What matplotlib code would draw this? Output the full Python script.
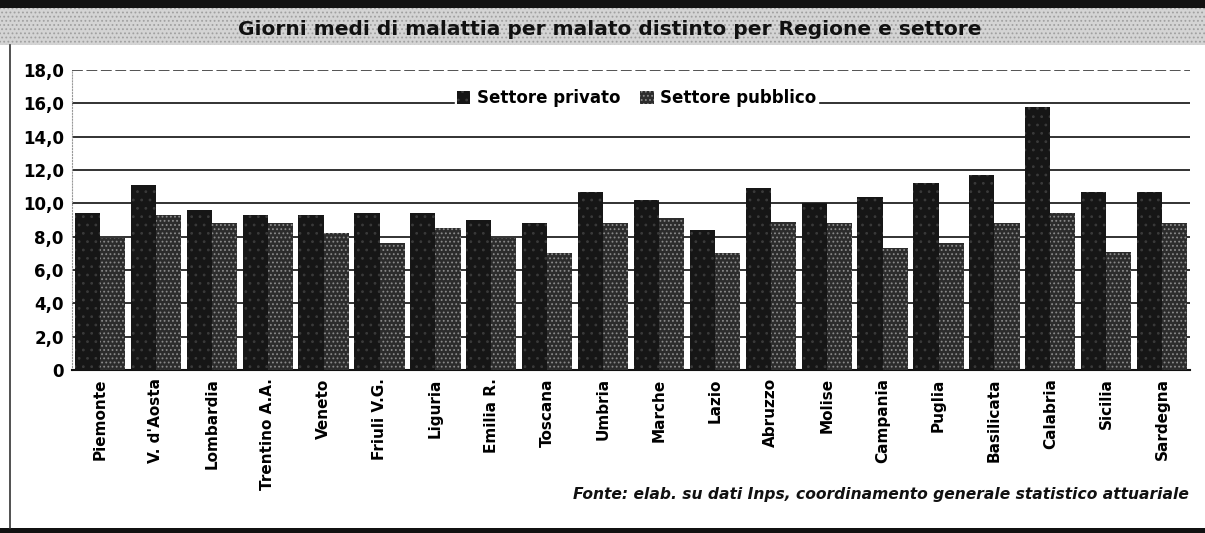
import numpy as np
import matplotlib.pyplot as plt
from matplotlib.patches import Rectangle
from matplotlib.lines import Line2D

regioni = ["Piemonte", "V. d'Aosta", "Lombardia", "Trentino A.A.", "Veneto",
           "Friuli V.G.", "Liguria", "Emilia R.", "Toscana", "Umbria",
           "Marche", "Lazio", "Abruzzo", "Molise", "Campania", "Puglia",
           "Basilicata", "Calabria", "Sicilia", "Sardegna"]
privato = [9.4, 11.1, 9.6, 9.3, 9.3, 9.4, 9.4, 9.0, 8.8, 10.7,
           10.2, 8.4, 10.9, 10.0, 10.4, 11.2, 11.7, 15.8, 10.7, 10.7]
pubblico = [7.9, 9.3, 8.8, 8.8, 8.2, 7.6, 8.5, 7.9, 7.0, 8.8,
            9.1, 7.0, 8.9, 8.8, 7.3, 7.6, 8.8, 9.4, 7.1, 8.8]
yticks = [0, 2, 4, 6, 8, 10, 12, 14, 16, 18]
ytick_labels = ["0", "2,0", "4,0", "6,0", "8,0", "10,0", "12,0", "14,0", "16,0", "18,0"]

plt.rcParams['font.family'] = ['DejaVu Sans']
plt.rcParams['hatch.linewidth'] = 0.8

fig = plt.figure(figsize=(12.05, 5.33), dpi=100)
fig.patch.set_facecolor('white')

# cornice: banda titolo, linee nere sopra e sotto, bordo sinistro
fig.patches.append(Rectangle((0, 0.915), 1, 0.085, transform=fig.transFigure,
                             facecolor='#d4d4d4', edgecolor='#a0a0a0', hatch='....',
                             linewidth=0, zorder=0))
fig.patches.append(Rectangle((0, 0.985), 1, 0.015, transform=fig.transFigure,
                             facecolor='#111111', edgecolor='none', zorder=1))
fig.patches.append(Rectangle((0, 0), 1, 0.01, transform=fig.transFigure,
                             facecolor='#111111', edgecolor='none', zorder=1))
fig.lines.append(Line2D([0.0085, 0.0085], [0.01, 0.915], transform=fig.transFigure,
                        color='#333333', linewidth=1.2))

fig.text(0.506, 0.945, "Giorni medi di malattia per malato distinto per Regione e settore",
         ha='center', va='center', fontsize=14.5, fontweight='bold', color='#111111')

ax = fig.add_axes([0.0598, 0.3058, 0.9278, 0.5629])
x = np.arange(len(regioni))
w = 0.45
ax.bar(x - w / 2, privato, width=w, color='#161616', edgecolor='#3a3a3a',
       hatch='..', linewidth=0, zorder=3)
ax.bar(x + w / 2, pubblico, width=w, color='#2c2c2c', edgecolor='#8a8a8a',
       hatch='....', linewidth=0, zorder=3)

ax.set_xlim(-0.5, len(regioni) - 0.5)
ax.set_ylim(0, 18)
ax.set_yticks(yticks)
ax.set_yticklabels(ytick_labels, fontsize=12, fontweight='bold')
ax.set_xticks(x)
ax.set_xticklabels(regioni, rotation=90, fontsize=11, fontweight='bold')
ax.tick_params(axis='both', length=0, pad=6)

for v in yticks[1:-1]:
    ax.axhline(v, color='#222222', linewidth=1.3, zorder=1)
ax.axhline(18, color='#444444', linewidth=1.3, linestyle=(0, (6, 2)), zorder=1)

for s in ['top', 'right']:
    ax.spines[s].set_visible(False)
ax.spines['left'].set_color('#999999')
ax.spines['left'].set_linestyle(':')
ax.spines['bottom'].set_color('#111111')
ax.spines['bottom'].set_linewidth(1.5)

handles = [Rectangle((0, 0), 1, 1, facecolor='#161616', edgecolor='#3a3a3a', hatch='..', linewidth=0),
           Rectangle((0, 0), 1, 1, facecolor='#2c2c2c', edgecolor='#8a8a8a', hatch='....', linewidth=0)]
leg = ax.legend(handles, ["Settore privato", "Settore pubblico"], loc='center',
                bbox_to_anchor=(0.505, 0.905), ncol=2, frameon=True, fancybox=False,
                framealpha=1, edgecolor='white', handlelength=0.8, handleheight=0.8,
                handletextpad=0.4, columnspacing=1.2, borderpad=0.1,
                prop={'weight': 'bold', 'size': 12})
leg.set_zorder(5)

fig.text(0.987, 0.072, "Fonte: elab. su dati Inps, coordinamento generale statistico attuariale",
         ha='right', va='center', fontsize=11.2, fontweight='bold', style='italic',
         color='#111111')

plt.savefig('out.png', dpi=100)
